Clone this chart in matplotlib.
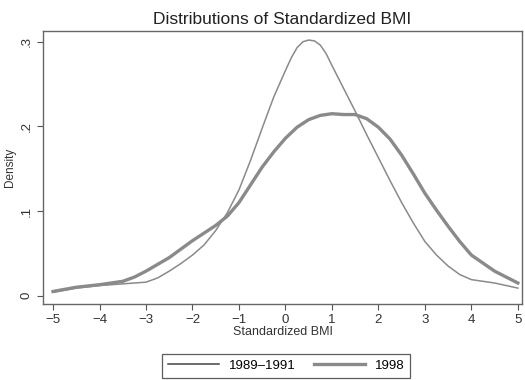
"""Distributions of standardized BMI, two survey periods."""
import matplotlib
matplotlib.use("Agg")
from matplotlib import pyplot as plt

plt.rcParams["font.family"] = ["Liberation Sans", "DejaVu Sans"]

# Density curves
bmi_early = [-5, -4.5, -4, -3.5, -3, -2.75, -2.5, -2.25, -2, -1.75, -1.5,
             -1.25, -1, -0.75, -0.5, -0.25, 0, 0.125, 0.25, 0.375, 0.5,
             0.625, 0.75, 0.875, 1, 1.25, 1.5, 1.75, 2, 2.25, 2.5, 2.75,
             3, 3.25, 3.5, 3.75, 4, 4.5, 5]
dens_early = [0.004, 0.009, 0.012, 0.014, 0.016, 0.021, 0.029, 0.038, 0.048,
              0.060, 0.077, 0.098, 0.125, 0.16, 0.198, 0.235, 0.266, 0.281,
              0.293, 0.300, 0.302, 0.301, 0.296, 0.286, 0.272, 0.245, 0.218,
              0.19, 0.163, 0.136, 0.11, 0.086, 0.064, 0.048, 0.035, 0.025,
              0.019, 0.015, 0.009]

bmi_1998 = [-5, -4.5, -4, -3.5, -3.25, -3, -2.75, -2.5, -2.25, -2, -1.75,
            -1.5, -1.25, -1, -0.75, -0.5, -0.25, 0, 0.25, 0.5, 0.75, 1,
            1.25, 1.5, 1.75, 2, 2.25, 2.5, 2.75, 3, 3.25, 3.5, 3.75, 4,
            4.5, 5]
dens_1998 = [0.005, 0.010, 0.013, 0.017, 0.022, 0.029, 0.037, 0.045, 0.055,
             0.065, 0.074, 0.083, 0.094, 0.11, 0.131, 0.152, 0.17, 0.186,
             0.199, 0.208, 0.213, 0.215, 0.214, 0.214, 0.209, 0.199, 0.185,
             0.166, 0.144, 0.121, 0.101, 0.082, 0.064, 0.048, 0.029, 0.015]

x_ticks = [-5, -4, -3, -2, -1, 0, 1, 2, 3, 4, 5]
y_ticks = [0, 0.1, 0.2, 0.3]
y_tick_labels = ["0", ".1", ".2", ".3"]

fig = plt.figure(figsize=(5.25, 3.8), dpi=100)
ax = fig.add_axes([0.082, 0.2, 0.912, 0.718])

ax.plot(bmi_early, dens_early, color="#8a8a8a", lw=1.1, label="1989\u20131991")
ax.plot(bmi_1998, dens_1998, color="#8a8a8a", lw=2.4, label="1998")

ax.set_xlim(-5.215, 5.086)
ax.set_ylim(-0.0098, 0.3125)
ax.set_xticks(x_ticks)
ax.set_xticklabels([str(t).replace("-", "\u2212") for t in x_ticks])
ax.set_yticks(y_ticks)
ax.set_yticklabels(y_tick_labels, rotation=90, va="center")
ax.tick_params(axis="both", labelsize=9.5, length=4, width=0.8,
               color="#555555", labelcolor="#333333")
for side in ax.spines.values():
    side.set_color("#666666")
    side.set_linewidth(1.0)

ax.set_xlabel("Standardized BMI", fontsize=9, color="#333333", labelpad=0)
ax.set_ylabel("Density", fontsize=8.5, color="#333333", labelpad=3)
ax.set_title("Distributions of Standardized BMI", fontsize=12.5,
             color="#222222", pad=5)

leg = fig.legend(loc="center", bbox_to_anchor=(0.545, 0.038), ncol=2,
                 fontsize=9.5, frameon=True, fancybox=False, handlelength=3.9,
                 handletextpad=0.7, columnspacing=1.4, borderpad=0.45)
leg.get_frame().set_edgecolor("#333333")
leg.get_frame().set_linewidth(0.9)
leg.get_lines()[0].set_color("#444444")

fig.savefig("out.png", dpi=100)
